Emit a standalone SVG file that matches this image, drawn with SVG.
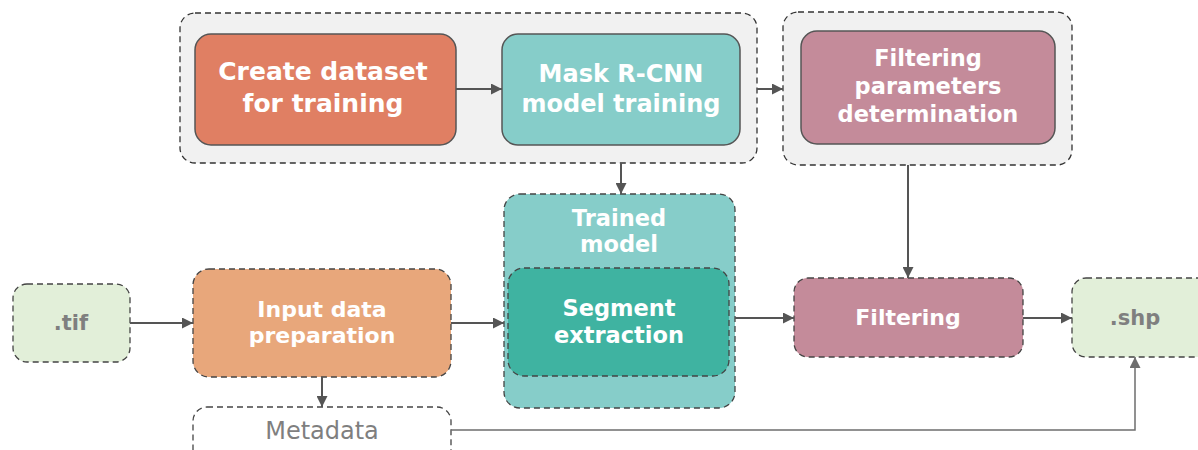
<svg xmlns="http://www.w3.org/2000/svg" width="1198" height="450" viewBox="0 0 1198 450">
<defs>
<marker id="ah" viewBox="0 0 10 10" refX="10" refY="5" markerWidth="11" markerHeight="11" markerUnits="userSpaceOnUse" orient="auto"><path d="M0,0 L10,5 L0,10 z" fill="#555"/></marker>
<marker id="ah2" viewBox="0 0 10 10" refX="10" refY="5" markerWidth="11" markerHeight="11" markerUnits="userSpaceOnUse" orient="auto"><path d="M0,0 L10,5 L0,10 z" fill="#6e6e6e"/></marker>
<style>
.grp{fill:#f1f1f1;stroke:#333;stroke-width:1.3;stroke-dasharray:6,4}
.solid{stroke:#555;stroke-width:1.5}
.dash{stroke:#444;stroke-width:1.3;stroke-dasharray:6,4}
.t{font-family:"DejaVu Sans",sans-serif;font-weight:bold;fill:#fff;text-anchor:middle}
.g{font-family:"DejaVu Sans",sans-serif;font-weight:bold;fill:#7f7f7f;text-anchor:middle}
.c{fill:none;stroke:#555;stroke-width:2;marker-end:url(#ah)}
</style>
</defs>
<rect width="1198" height="450" fill="#fff"/>
<g id="training-group"><rect class="grp" x="180" y="13" width="577" height="150" rx="15"/></g>
<g id="params-group"><rect class="grp" x="783" y="12" width="289" height="153" rx="15"/></g>
<g id="create-dataset"><rect class="solid" x="195" y="34" width="261" height="111" rx="16" fill="#e07f63"/>
<text class="t" font-size="25"><tspan x="323" y="80">Create dataset</tspan><tspan x="323" y="112">for training</tspan></text></g>
<g id="mask-rcnn"><rect class="solid" x="502" y="34" width="238" height="111" rx="16" fill="#86cdc9"/>
<text class="t" font-size="24"><tspan x="621" y="82">Mask R-CNN</tspan><tspan x="621" y="112">model training</tspan></text></g>
<g id="filter-params"><rect class="solid" x="801" y="31" width="254" height="113" rx="16" fill="#c48b9a"/>
<text class="t" font-size="22.5"><tspan x="928" y="66">Filtering</tspan><tspan x="928" y="94">parameters</tspan><tspan x="928" y="122">determination</tspan></text></g>
<g id="tif"><rect class="dash" x="13" y="284" width="117" height="78" rx="14" fill="#e2efd9"/>
<text class="g" font-size="21" x="71" y="330">.tif</text></g>
<g id="input-prep"><rect class="dash" x="193" y="269" width="258" height="108" rx="16" fill="#e8a77b"/>
<text class="t" font-size="22"><tspan x="322" y="317">Input data</tspan><tspan x="322" y="343">preparation</tspan></text></g>
<g id="metadata"><rect class="dash" x="193" y="407" width="258" height="60" rx="14" fill="#fff" stroke="#555"/>
<text font-family="DejaVu Sans, sans-serif" font-size="24" fill="#7f7f7f" text-anchor="middle" x="322" y="439">Metadata</text></g>
<g id="trained-model"><rect class="dash" x="504" y="194" width="231" height="214" rx="16" fill="#86cdc9"/>
<text class="t" font-size="22.5"><tspan x="619" y="226">Trained</tspan><tspan x="619" y="252">model</tspan></text></g>
<g id="segment"><rect class="dash" x="508" y="268" width="221" height="108" rx="16" fill="#3fb3a1"/>
<text class="t" font-size="22.5"><tspan x="619" y="316">Segment</tspan><tspan x="619" y="343">extraction</tspan></text></g>
<g id="filtering"><rect class="dash" x="794" y="278" width="229" height="79" rx="14" fill="#c48b9a"/>
<text class="t" font-size="22" x="908" y="325">Filtering</text></g>
<g id="shp"><rect class="dash" x="1072" y="278" width="140" height="79" rx="14" fill="#e2efd9"/>
<text class="g" font-size="21" x="1135" y="325">.shp</text></g>
<g id="connectors">
<line class="c" x1="456" y1="89" x2="502" y2="89"/>
<line class="c" x1="757" y1="89" x2="783" y2="89"/>
<line class="c" x1="621" y1="163" x2="621" y2="194"/>
<line class="c" x1="908" y1="165" x2="908" y2="278"/>
<line class="c" x1="130" y1="323" x2="193" y2="323"/>
<line class="c" x1="451" y1="323" x2="504" y2="323"/>
<line class="c" x1="322" y1="377" x2="322" y2="407"/>
<line class="c" x1="735" y1="318" x2="794" y2="318"/>
<line class="c" x1="1023" y1="318" x2="1072" y2="318"/>
<path d="M451,430 H1135 V357" fill="none" stroke="#6e6e6e" stroke-width="1.5" marker-end="url(#ah2)"/>
</g>
</svg>
